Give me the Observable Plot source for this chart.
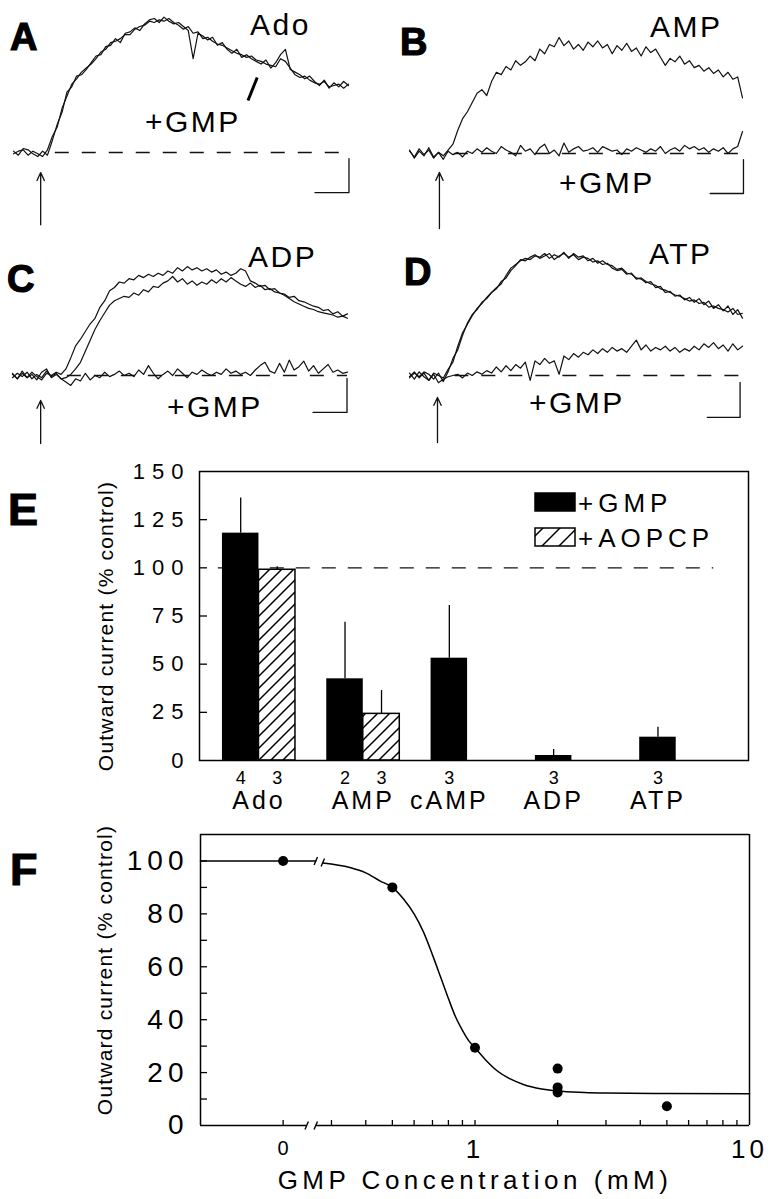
<!DOCTYPE html>
<html><head><meta charset="utf-8">
<script src="https://cdn.jsdelivr.net/npm/d3@7"></script>
<script src="https://cdn.jsdelivr.net/npm/@observablehq/plot@0.6"></script>
<style>
html,body{margin:0;padding:0;background:#fff;}
#page{position:relative;width:774px;height:1199px;overflow:hidden;background:#fff;}
#page svg{position:absolute;margin:0;}
</style></head><body>
<svg width="0" height="0" style="position:absolute"><defs>
<pattern id="hatch" patternUnits="userSpaceOnUse" width="12" height="12">
<rect width="12" height="12" fill="#fff"></rect>
<path d="M-3,3 L3,-3 M0,12 L12,0 M9,15 L15,9" stroke="#000" stroke-width="1.5"></path>
</pattern>
<pattern id="hatchL" patternUnits="userSpaceOnUse" width="17" height="17">
<rect width="17" height="17" fill="#fff"></rect>
<path d="M-3,3 L3,-3 M0,17 L17,0 M14,20 L20,14" stroke="#000" stroke-width="1.5"></path>
</pattern>
</defs></svg>
<div id="page"></div>
<script>
const FONT = '"Liberation Sans", Arial, Helvetica, sans-serif';

// ---- Panels A-D: current traces (amplitude, % of peak), 70 samples each ----
const A_ado = [1,-2,3,2,-1,-3,1,-2,9,21, 30,45,49,57,58,62,67,72,73,79, 80,85,82,89,90,93,91,96,99,100, 97,101,98,96,97,94,91,70,89,87, 84,86,80,82,77,74,77,71,73,70, 68,66,69,63,67,73,77,62,60,58, 55,57,53,50,54,48,52,49,53,50];
const A_gmp = [-1,1,2,-2,1,-1,-3,2,12,19, 33,42,51,55,60,63,66,70,75,77, 82,83,85,88,88,92,94,95,98,97, 99,98,100,97,95,92,94,89,90,85, 86,83,81,80,78,76,74,73,71,72, 69,68,66,65,64,70,68,63,58,56, 57,54,52,51,53,49,50,51,48,51];
const B_amp = [2,-3,4,-1,3,-4,1,-2,3,8, 20,30,36,44,52,55,50,62,70,68, 75,72,80,76,79,84,80,90,86,94, 92,100,93,97,90,94,89,96,92,97, 91,94,86,93,89,95,88,91,84,92, 87,90,83,76,82,79,84,77,80,74, 76,71,74,69,72,66,70,64,66,48];
const B_gmp = [3,-4,2,-2,5,-3,1,-5,2,-1, 1,-3,2,0,4,1,5,2,0,6, 3,1,-2,7,2,4,-1,5,8,0, 3,-2,9,1,4,6,2,3,5,1, 6,4,2,3,-1,4,2,5,3,1, 4,2,6,0,3,5,2,7,4,6, 3,5,1,4,2,5,0,4,6,19];
const C_adp1 = [1,-3,2,-2,3,-1,-4,2,0,3, 1,6,16,27,33,40,47,52,62,68, 77,80,85,84,88,87,91,89,92,90, 93,91,95,93,98,95,99,96,98,95, 97,94,96,92,94,91,93,97,95,86, 84,81,82,78,79,75,74,71,72,68, 67,65,63,62,59,60,56,58,54,56];
const C_adp2 = [-2,2,-1,3,-3,1,-2,4,-1,2, -3,-2,1,6,12,22,32,42,50,57, 64,68,70,72,71,75,73,78,76,81, 80,84,86,90,85,88,83,86,82,85, 83,87,84,88,85,89,86,83,81,84, 80,82,78,79,76,75,73,70,67,65, 63,61,60,58,57,56,55,53,54,52];
const C_gmp = [2,-3,4,-2,1,-4,3,6,-2,1, -3,-6,-9,-3,-5,2,-4,0,-2,3, -1,1,4,0,2,-1,5,1,9,2, -3,1,4,0,6,2,-2,3,1,5, 2,0,3,1,6,2,4,1,3,0, 5,9,12,4,2,11,3,14,5,8, 13,4,9,2,6,10,3,5,2,3];
const D_atp1 = [2,-3,3,-1,-4,2,0,-2,5,11, 24,35,42,49,55,59,64,68,72,75, 82,88,91,94,96,95,98,97,100,96, 99,97,101,96,100,97,98,94,96,92, 94,91,90,87,88,84,83,80,79,76, 77,72,73,68,69,65,66,62,64,60, 63,58,61,55,58,53,57,50,54,47];
const D_atp2 = [-2,2,-1,3,1,-3,2,-5,3,14, 21,33,43,50,54,60,63,68,71,77, 80,86,90,95,94,97,99,96,98,100, 95,98,100,97,99,95,97,96,93,94, 91,92,88,86,87,83,84,79,80,77, 75,74,71,70,68,66,65,63,61,62, 59,60,56,57,55,54,52,55,50,51];
const D_gmp = [-1,3,-2,2,-4,1,-6,-3,-1,0, 1,-2,2,0,3,1,4,2,7,3, 8,4,9,6,11,-4,12,9,14,10, 12,1,16,13,18,15,19,17,21,18, 22,19,23,20,22,19,24,29,21,25, 20,23,21,24,20,23,19,22,20,24, 21,26,23,27,22,25,20,26,21,24];

// ---- Panel E: bar chart ----
const groups = ["Ado", "AMP", "cAMP", "ADP", "ATP"];
const gmpMean = [118, 42.4, 53.1, 2.6, 12.1];
const gmpErr = [18.2, 29.4, 27.3, 3.1, 5.2];
const gmpN = [4, 2, 3, 3, 3];
const aopcpMean = [99, 24.2, null, null, null];
const aopcpErr = [1.5, 12.1, null, null, null];
const aopcpN = [3, 3, null, null, null];
const yTicksE = [0, 25, 50, 75, 100, 125, 150];
const legendE = ["+GMP", "+AOPCP"];

// ---- Panel F: dose-response ----
const gmpConc = [0, 0.5, 1, 2, 2, 2, 5];
const gmpResp = [100, 90, 29.4, 21.5, 14.4, 12.5, 7.3];
const fitConc = [0.1, 0.2, 0.263, 0.279, 0.35, 0.4, 0.45, 0.5, 0.55, 0.6, 0.65, 0.7, 0.75, 0.8, 0.85, 0.9, 0.95, 1, 1.1, 1.2, 1.35, 1.5, 1.75, 2, 2.5, 3, 5, 10];
const fitResp = [100, 100, 100, 99.2, 97.5, 95.5, 92.5, 90, 85.5, 80, 73, 64.5, 56, 48, 41, 36, 32, 29.4, 24.5, 20.8, 17.5, 15.5, 13.8, 13, 12.5, 12.3, 12.1, 12];
const yTicksF = [0, 20, 40, 60, 80, 100];
const yMinorF = [10, 20, 30, 40, 50, 60, 70, 80, 90, 100];
const xTicksF = [0.2, 0.3, 0.4, 0.5, 0.6, 0.7, 0.8, 0.9, 1, 2, 3, 4, 5, 6, 7, 8, 9];
const xLabelsF = [1, 10];
const zeroPos = 0.2; // where "0" concentration is drawn, left of the axis break

const page = document.getElementById("page");
function place(el, left, top) {
  el.style.position = "absolute"; el.style.left = left + "px"; el.style.top = top + "px";
  page.appendChild(el); return el;
}
function spacing(svg, fn) {
  svg.querySelectorAll("text").forEach(t => {
    const g = t.closest("g[aria-label]");
    const v = fn(t.textContent, g ? g.getAttribute("aria-label") : "");
    if (v != null) t.style.letterSpacing = v + "px";
  });
}

// ---------- trace panels ----------
const panels = [
  {left:0, top:0, width:387, height:232, x0:13, x1:348, base:152, peak:18, traces:[A_ado, A_gmp],
   dash:[8.6, 69.3], arrow:{x:5.6, tip:-15, tail:-54}, bar:{cx:69.1, cy:-29.9, top:-4.5, lx:62.1},
   pointer:{x1:50.2, y1:56, x2:48.3, y2:38.8}},
  {left:387, top:0, width:387, height:232, x0:22, x1:355, base:153, peak:37, traces:[B_amp, B_gmp],
   dash:[9.3, 69], arrow:{x:6.2, tip:-16.4, tail:-64.7}, bar:{cx:69.2, cy:-34.5, top:-5.2, lx:62.3}},
  {left:0, top:232, width:387, height:228, x0:12, x1:347, base:143, peak:33, traces:[C_adp1, C_adp2, C_gmp],
   dash:[11.3, 69], arrow:{x:5.8, tip:-22.7, tail:-61.8}, bar:{cx:68.9, cy:-33.6, top:-2.7, lx:61.9}},
  {left:387, top:232, width:387, height:228, x0:22, x1:355, base:143, peak:21, traces:[D_atp1, D_atp2, D_gmp],
   dash:[9.4, 69.4], arrow:{x:5.8, tip:-18, tail:-55}, bar:{cx:68.5, cy:-34.4, top:-5.7, lx:61.7}}
];
panels.forEach(p => {
  const s = (p.base - p.peak) / 100;
  const data = p.traces.flatMap((arr, k) => arr.map((v, i) => ({i, v, k})));
  const sb = [[p.bar.cx, p.bar.top], [p.bar.cx, p.bar.cy], [p.bar.lx, p.bar.cy]];
  const marks = [
    Plot.ruleY([0], {x1: p.dash[0], x2: p.dash[1], stroke: "#111", strokeWidth: 1.3, strokeDasharray: "14,13"}),
    Plot.line(data, {x: "i", y: "v", z: "k", stroke: "#111", strokeWidth: 1.2, strokeLinejoin: "round"}),
    Plot.arrow([p.arrow], {x1: "x", x2: "x", y1: "tail", y2: "tip", stroke: "#111", strokeWidth: 1.3, headLength: 10, headAngle: 50}),
    Plot.line(sb, {x: d => d[0], y: d => d[1], stroke: "#111", strokeWidth: 1.3})
  ];
  if (p.pointer) marks.push(Plot.link([p.pointer], {x1: "x1", y1: "y1", x2: "x2", y2: "y2", stroke: "#000", strokeWidth: 3}));
  const svg = Plot.plot({
    width: p.width, height: p.height,
    marginLeft: p.x0, marginRight: p.width - p.x1, marginTop: 0, marginBottom: 0,
    x: {domain: [0, 69], axis: null},
    y: {domain: [(p.base - p.height) / s, p.base / s], axis: null},
    style: {background: "transparent", overflow: "visible", fontFamily: FONT},
    marks
  });
  place(svg, p.left, p.top);
});

// ---------- Panel E ----------
const gmpRows = groups.map((name, i) => ({name, g: i, x1: i - 0.35, x2: i, cx: i - 0.175, mean: gmpMean[i], err: gmpErr[i], n: gmpN[i]}));
const aopRows = groups.map((name, i) => ({name, g: i, x1: i, x2: i + 0.35, cx: i + 0.175, mean: aopcpMean[i], err: aopcpErr[i], n: aopcpN[i]})).filter(d => d.mean != null);
const allRows = gmpRows.concat(aopRows);
const labelRows = groups.map((name, i) => ({name, lx: aopcpMean[i] != null ? i : i - 0.175}));

const svgE = Plot.plot({
  width: 774, height: 360,
  marginLeft: 199, marginRight: 26, marginTop: 16, marginBottom: 55,
  x: {domain: [-0.570, 4.693], axis: null},
  y: {domain: [0, 150]},
  style: {background: "transparent", overflow: "visible", fontFamily: FONT, color: "#000"},
  marks: [
    Plot.ruleY([100], {x1: -0.39, x2: 4.36, stroke: "#111", strokeWidth: 1.3, strokeDasharray: "14,12"}),
    Plot.rect(gmpRows, {x1: "x1", x2: "x2", y1: 0, y2: "mean", fill: "#000"}),
    Plot.rect(aopRows, {x1: "x1", x2: "x2", y1: 0, y2: "mean", fill: "url(#hatch)", stroke: "#000", strokeWidth: 1.5}),
    Plot.ruleX(allRows, {x: "cx", y1: "mean", y2: d => d.mean + d.err, stroke: "#000", strokeWidth: 1.3}),
    Plot.frame({stroke: "#000", strokeWidth: 1.5}),
    Plot.axisY({ticks: [25, 50, 75, 100, 125], tickSize: 8, dx: 8, fill: "none", label: null, strokeWidth: 1.3}),
    Plot.axisY({ticks: yTicksE, tickSize: 0, tickPadding: 9, fontSize: 22, label: null, tickFormat: d => String(d)}),
    Plot.text(allRows, {x: "cx", text: d => String(d.n), frameAnchor: "bottom", dy: 23, lineAnchor: "bottom", fontSize: 18}),
    Plot.text(labelRows, {x: "lx", text: "name", frameAnchor: "bottom", dy: 48, lineAnchor: "bottom", fontSize: 25}),
    Plot.text(["Outward current (% control)"], {frameAnchor: "left", textAnchor: "middle", dx: -93, dy: 10, rotate: -90, fontSize: 21})
  ]
});
place(svgE, 0, 455);
spacing(svgE, (t, lab) => lab === "y-axis tick label" ? 7 : (groups.includes(t) ? 3 : (t.startsWith("Outward") ? 1.2 : null)));

// ---------- Panel F ----------
const pts = gmpConc.map((c, i) => ({c: c === 0 ? zeroPos : c, v: gmpResp[i]}));
const fit = fitConc.map((c, i) => ({c, v: fitResp[i], seg: c < 0.27 ? 0 : 1}));
const axisBreaks = [{c: 0.2437, v: 0}, {c: 0.263, v: 0}];
const curveBreaks = [{c: 0.263, v: 100}, {c: 0.279, v: 99.4}];
const svgF = Plot.plot({
  width: 774, height: 384,
  marginLeft: 200, marginRight: 25, marginTop: 19, marginBottom: 74,
  x: {type: "log", domain: [0.1, 10]},
  y: {domain: [0, 110]},
  style: {background: "transparent", overflow: "visible", fontFamily: FONT, color: "#000"},
  marks: [
    Plot.ruleX([0.1, 10], {y1: 0, y2: 110, stroke: "#000", strokeWidth: 1.5}),
    Plot.ruleY([110], {x1: 0.1, x2: 10, stroke: "#000", strokeWidth: 1.5}),
    Plot.ruleY([0], {x1: 0.1, x2: 0.2437, stroke: "#000", strokeWidth: 1.5}),
    Plot.ruleY([0], {x1: 0.263, x2: 10, stroke: "#000", strokeWidth: 1.5}),
    Plot.link(axisBreaks.concat(curveBreaks), {x1: d => d.c / 1.0145, x2: d => d.c * 1.0145, y1: d => d.v - 1.5, y2: d => d.v + 1.5, stroke: "#000", strokeWidth: 1.4}),
    Plot.line(fit, {x: "c", y: "v", z: "seg", curve: "monotone-x", stroke: "#000", strokeWidth: 1.5}),
    Plot.dot(pts, {x: "c", y: "v", r: 5, fill: "#000"}),
    Plot.axisY({ticks: yMinorF, tickSize: 7, dx: 7, fill: "none", label: null, strokeWidth: 1.3}),
    Plot.axisY({ticks: yTicksF, tickSize: 0, tickPadding: 12, fontSize: 28, label: null, tickFormat: d => String(d)}),
    Plot.axisX({ticks: xTicksF, tickSize: 5, dy: -5, fill: "none", label: null, strokeWidth: 1.3}),
    Plot.axisX({ticks: xLabelsF, tickSize: 0, tickPadding: 14, fontSize: 26, label: null, tickFormat: d => String(d)}),
    Plot.axisX({ticks: [zeroPos], tickSize: 0, tickPadding: 15, fontSize: 20, label: null, tickFormat: () => "0"}),
    Plot.text(["GMP Concentration (mM)"], {frameAnchor: "bottom", dy: 63, lineAnchor: "bottom", fontSize: 26}),
    Plot.text(["Outward current (% control)"], {frameAnchor: "left", textAnchor: "middle", dx: -95, dy: -10, rotate: -90, fontSize: 21})
  ]
});
place(svgF, 0, 815);
spacing(svgF, (t, lab) => lab === "y-axis tick label" ? 5 : (lab === "x-axis tick label" ? (t === "0" ? 0 : 4) : (t.startsWith("GMP") ? 4.5 : (t.startsWith("Outward") ? 1.2 : null))));

// ---------- overlay: panel letters, trace labels, legend ----------
const ov = d3.select(page).append("svg").attr("width", 774).attr("height", 1199)
  .style("position", "absolute").style("left", "0px").style("top", "0px").style("pointer-events", "none")
  .attr("font-family", FONT);
const letters = [
  {t: "A", x: 10, y: 50, s: 38}, {t: "B", x: 400, y: 55, s: 38},
  {t: "C", x: 7, y: 292, s: 38}, {t: "D", x: 404, y: 285, s: 38},
  {t: "E", x: 8, y: 525, s: 45}, {t: "F", x: 10, y: 885, s: 45}
];
ov.selectAll("text.letter").data(letters).join("text").attr("class", "letter")
  .attr("x", d => d.x).attr("y", d => d.y).attr("font-size", d => d.s).attr("font-weight", 700)
  .attr("stroke", "#000").attr("stroke-width", 1.2).attr("fill", "#000").text(d => d.t);
const traceLabels = [
  {t: "Ado", x: 250, y: 35}, {t: "+GMP", x: 145, y: 132},
  {t: "AMP", x: 650, y: 37}, {t: "+GMP", x: 559, y: 193},
  {t: "ADP", x: 248, y: 267}, {t: "+GMP", x: 167, y: 417},
  {t: "ATP", x: 649, y: 264}, {t: "+GMP", x: 529, y: 413}
];
ov.selectAll("text.tl").data(traceLabels).join("text").attr("class", "tl")
  .attr("x", d => d.x).attr("y", d => d.y).attr("font-size", 30).attr("fill", "#000")
  .style("letter-spacing", "2.5px").text(d => d.t);
const leg = ov.append("g");
legendE.forEach((lab, i) => {
  const y0 = 493 + i * 35;
  leg.append("rect").attr("x", 535).attr("y", y0).attr("width", 40).attr("height", 18)
    .attr("fill", i === 0 ? "#000" : "url(#hatchL)").attr("stroke", "#000").attr("stroke-width", 1.5);
  leg.append("text").attr("x", 578).attr("y", y0 + 19).attr("font-size", 26).attr("fill", "#000")
    .style("letter-spacing", "5px").text(lab);
});
</script>
</body></html>
